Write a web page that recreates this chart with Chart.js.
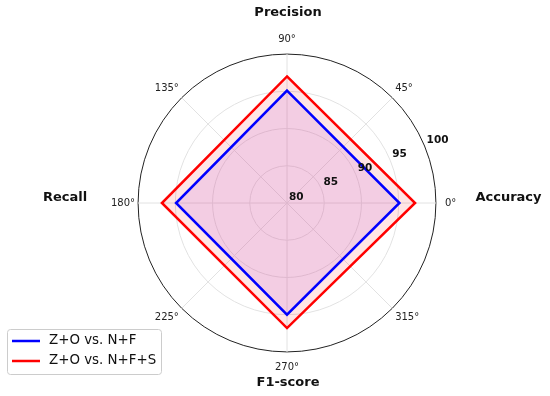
<!DOCTYPE html>
<html>
<head>
<meta charset="utf-8">
<script src="https://cdn.jsdelivr.net/npm/chart.js@4/dist/chart.umd.min.js"></script>
<style>
  html, body { margin: 0; padding: 0; background: #fff; }
  #wrap { width: 550px; height: 396px; }
</style>
</head>
<body>
<div id="wrap"><canvas id="radarChart" width="550" height="396"></canvas></div>
<script>
// angle labels, clockwise from the top (Chart.js radar order)
const angleLabels = ['90°', '45°', '0°', '315°', '270°', '225°', '180°', '135°'];
const angleDegrees = [90, 45, 0, 315, 270, 225, 180, 135];

// metrics and where they sit on the circle
const metrics = ['Accuracy', 'Precision', 'Recall', 'F1-score'];
const metricAngles = [0, 90, 180, 270];

const seriesNames = ['Z+O vs. N+F', 'Z+O vs. N+F+S'];
const nfValues = [95.1, 95.1, 94.9, 95.0];
const nfsValues = [97.2, 97.0, 96.8, 96.8];

const radialTicks = [80, 85, 90, 95, 100];

// put each metric at its angle slot, other slots stay empty
function toSlots(values) {
    return angleDegrees.map(function(a) {
        const i = metricAngles.indexOf(a);
        return i >= 0 ? values[i] : null;
    });
}

Chart.defaults.font.family = 'DejaVu Sans';

const labelPadding = [9, 4, 9, 4, 9, 4, 3, 4];

const extrasPlugin = {
    id: 'extras',
    afterDraw(chart) {
        const ctx = chart.ctx;
        const scale = chart.scales.r;
        const cx = scale.xCenter;
        const cy = scale.yCenter;

        // radial tick labels along 22.5 degrees
        const rad = 22.5 * Math.PI / 180;
        ctx.save();
        ctx.font = 'bold 10.5px "DejaVu Sans"';
        ctx.fillStyle = '#111';
        ctx.textAlign = 'left';
        ctx.textBaseline = 'middle';
        radialTicks.forEach(function(v) {
            const d = scale.getDistanceFromCenterForValue(v);
            ctx.fillText(String(v), cx + d * Math.cos(rad) + 2, cy - d * Math.sin(rad) - 6);
        });

        // metric names
        ctx.font = 'bold 13px "DejaVu Sans"';
        ctx.textAlign = 'center';
        const offsets = {0: [221.5, -5.5], 90: [1, -190], 180: [-222, -5.8], 270: [1, 180]};
        metrics.forEach(function(m, i) {
            const o = offsets[metricAngles[i]];
            ctx.fillText(m, cx + o[0], cy + o[1]);
        });

        // legend box, lower left
        const bx = 7.5, by = 329.5, bw = 154, bh = 45;
        ctx.beginPath();
        ctx.roundRect(bx, by, bw, bh, 3);
        ctx.fillStyle = 'rgba(255,255,255,0.8)';
        ctx.fill();
        ctx.strokeStyle = '#cccccc';
        ctx.lineWidth = 1;
        ctx.stroke();

        ctx.font = '13.4px "DejaVu Sans"';
        ctx.textAlign = 'left';
        chart.data.datasets.forEach(function(ds, i) {
            const y = 341 + i * 20;
            ctx.beginPath();
            ctx.moveTo(12, y);
            ctx.lineTo(40, y);
            ctx.strokeStyle = ds.borderColor;
            ctx.lineWidth = 2.5;
            ctx.stroke();
            ctx.fillStyle = '#111';
            ctx.fillText(ds.label, 49, y);
        });
        ctx.restore();
    }
};

const ctx = document.getElementById('radarChart').getContext('2d');
new Chart(ctx, {
    type: 'radar',
    data: {
        labels: angleLabels,
        datasets: [
            {
                label: seriesNames[0],
                data: toSlots(nfValues),
                borderColor: '#0000ff',
                backgroundColor: 'rgba(200, 120, 220, 0.22)',
                borderWidth: 2.5,
                borderJoinStyle: 'miter',
                pointRadius: 0,
                spanGaps: true,
                fill: 'origin'
            },
            {
                label: seriesNames[1],
                data: toSlots(nfsValues),
                borderColor: '#ff0000',
                backgroundColor: 'rgba(255, 0, 0, 0.1)',
                borderWidth: 2.5,
                borderJoinStyle: 'miter',
                pointRadius: 0,
                spanGaps: true,
                fill: 'origin'
            }
        ]
    },
    options: {
        responsive: false,
        animation: false,
        layout: {
            padding: { left: 108, right: 90, top: 27, bottom: 17 }
        },
        scales: {
            r: {
                min: 80,
                max: 100,
                ticks: { stepSize: 5, display: false },
                grid: {
                    circular: true,
                    color: function(c) {
                        return c.tick && c.tick.value === 100 ? '#222222' : '#e2e2e2';
                    },
                    lineWidth: 1
                },
                angleLines: { color: '#e2e2e2', lineWidth: 1 },
                pointLabels: {
                    font: { size: 10, family: 'DejaVu Sans' },
                    color: '#222',
                    padding: function(c) { return labelPadding[c.index]; }
                }
            }
        },
        plugins: {
            legend: { display: false },
            tooltip: { enabled: false }
        }
    },
    plugins: [extrasPlugin]
});
</script>
</body>
</html>
